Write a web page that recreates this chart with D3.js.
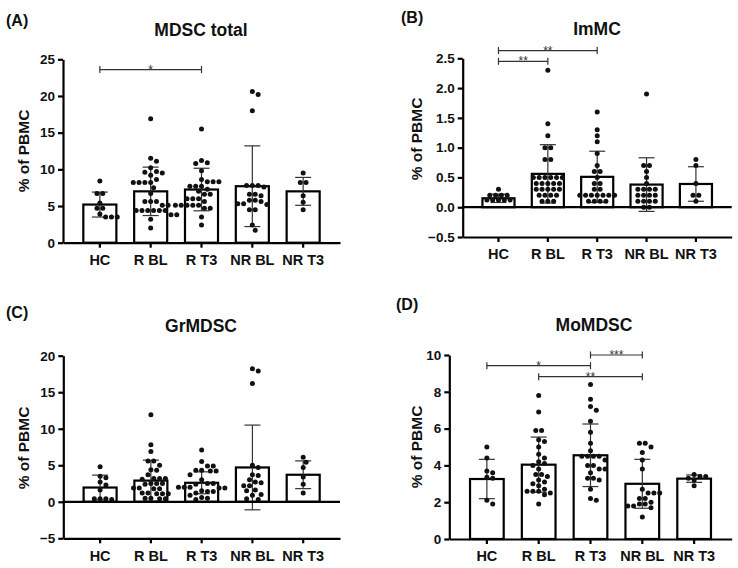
<!DOCTYPE html>
<html>
<head>
<meta charset="utf-8">
<script src="https://cdn.jsdelivr.net/npm/d3@7"></script>
<style>
  body { margin: 0; background: #fff; }
  text { font-family: Arial, "Liberation Sans", sans-serif; font-weight: bold; fill: #111; }
</style>
</head>
<body>
<div id="chart"></div>
<script>
// Groups on every panel
const groups = ["HC", "R BL", "R T3", "NR BL", "NR T3"];

// (A) MDSC total
const mdscTotalTicks = [0, 5, 10, 15, 20, 25];
const mdscTotalHC = [8.4, 6.7, 6.7, 5.4, 4.7, 4.7, 3.9, 3.5, 3.5, 3.5];
const mdscTotalRBL = [16.9, 11.5, 11.1, 10.2, 9.7, 9.6, 9.5, 9.2, 8.6, 8.2, 8.2, 8.2, 8.2, 7.5, 6.7, 5.6, 5.6, 5.6, 5.1, 5.1, 4.4, 4.4, 4.4, 4.4, 4.4, 4.4, 3.8, 3.8, 3.2, 2.0];
const mdscTotalRT3 = [15.5, 11.2, 10.9, 10.8, 9.8, 8.6, 8.3, 8.3, 8.3, 7.7, 7.7, 7.7, 7.3, 7.0, 6.6, 6.6, 6.0, 6.0, 6.0, 5.6, 5.1, 5.1, 5.1, 5.1, 5.1, 4.7, 4.7, 3.5, 2.4];
const mdscTotalNRBL = [20.6, 20.2, 18.0, 7.8, 7.8, 7.8, 7.6, 6.6, 6.6, 6.4, 5.8, 5.8, 5.6, 5.3, 5.3, 5.2, 4.5, 4.5, 2.4, 1.7];
const mdscTotalNRT3 = [9.5, 8.2, 8.2, 6.4, 5.5, 4.5];
const mdscTotalMean = [5.2, 7.0, 7.25, 7.7, 7.0];
const mdscTotalSD = [1.7, 3.3, 2.9, 5.5, 1.9];
const mdscTotalSig = [{ from: "HC", to: "R T3", at: 23.6, label: "*" }];

// (B) ImMC
const immcTicks = [-0.5, 0, 0.5, 1.0, 1.5, 2.0, 2.5];
const immcHC = [0.3, 0.2, 0.2, 0.2, 0.2, 0.12, 0.12, 0.12, 0.12, 0.12];
const immcRBL = [2.3, 1.4, 1.2, 1.0, 1.0, 0.8, 0.8, 0.5, 0.5, 0.5, 0.5, 0.5, 0.5, 0.4, 0.4, 0.4, 0.4, 0.4, 0.3, 0.3, 0.3, 0.3, 0.3, 0.2, 0.2, 0.2, 0.2, 0.1, 0.1, 0.1];
const immcRT3 = [1.6, 1.3, 1.2, 1.1, 0.9, 0.7, 0.6, 0.6, 0.5, 0.4, 0.4, 0.3, 0.3, 0.2, 0.2, 0.2, 0.2, 0.2, 0.2, 0.2, 0.1, 0.1, 0.1, 0.1];
const immcNRBL = [1.9, 0.7, 0.7, 0.6, 0.5, 0.4, 0.3, 0.3, 0.3, 0.3, 0.2, 0.2, 0.2, 0.2, 0.1, 0.1, 0.1, 0.1, 0.0, 0.0];
const immcNRT3 = [0.8, 0.7, 0.4, 0.2, 0.2, 0.1];
const immcMean = [0.15, 0.56, 0.51, 0.38, 0.39];
const immcSD = [0.07, 0.49, 0.43, 0.45, 0.29];
const immcSig = [
    { from: "HC", to: "R T3", at: 2.63, label: "**" },
    { from: "HC", to: "R BL", at: 2.45, label: "**" }
];

// (C) GrMDSC
const grTicks = [-5, 0, 5, 10, 15, 20];
const grHC = [4.8, 3.5, 3.3, 2.7, 2.3, 1.6, 0.4, 0.4, 0.4, 0.3];
const grRBL = [11.9, 7.8, 6.9, 5.6, 5.6, 5.0, 4.4, 4.3, 3.7, 3.2, 3.2, 3.2, 3.1, 2.5, 2.5, 2.5, 2.4, 1.9, 1.9, 1.8, 1.8, 1.2, 1.2, 1.1, 1.1, 1.1, 0.5, 0.5, 0.4, 0.4];
const grRT3 = [7.1, 5.5, 4.9, 4.9, 4.3, 4.3, 4.2, 4.2, 3.7, 3.0, 2.5, 2.5, 2.4, 2.0, 2.0, 2.0, 1.9, 1.9, 1.5, 1.4, 1.4, 1.2, 0.9, 0.6, 0.5, 0.3];
const grNRBL = [18.2, 17.9, 16.2, 5.0, 4.7, 3.7, 3.6, 3.0, 2.7, 2.6, 2.2, 2.2, 1.6, 1.5, 1.0, 0.9, 0.4, 0.3];
const grNRT3 = [6.1, 5.4, 4.7, 3.4, 2.4, 1.2];
const grMean = [1.95, 2.9, 2.6, 4.7, 3.7];
const grSD = [1.7, 2.8, 1.5, 5.8, 1.9];
const grSig = [];

// (D) MoMDSC
const moTicks = [0, 2, 4, 6, 8, 10];
const moHC = [5.0, 4.4, 3.7, 3.6, 3.35, 3.3, 2.1, 1.9];
const moRBL = [7.8, 6.9, 5.9, 5.9, 5.4, 5.3, 5.0, 4.6, 4.4, 4.2, 4.1, 4.0, 3.8, 3.5, 3.5, 3.4, 3.2, 3.1, 3.0, 2.9, 2.7, 2.6, 2.6, 2.6, 2.5, 2.4, 1.9];
const moRT3 = [8.4, 7.6, 7.2, 7.0, 6.4, 5.8, 5.2, 4.8, 4.5, 4.5, 4.5, 4.5, 4.3, 4.0, 4.0, 3.8, 3.8, 3.6, 3.3, 3.3, 3.2, 2.7, 2.2, 2.1];
const moNRBL = [5.2, 5.2, 5.0, 4.7, 4.3, 3.8, 2.7, 2.5, 2.5, 2.5, 2.2, 2.2, 2.0, 1.9, 1.9, 1.8, 1.8, 1.7, 1.2];
const moNRT3 = [3.5, 3.4, 3.4, 3.3, 3.2, 2.9];
const moMean = [3.26, 4.04, 4.55, 3.0, 3.28];
const moSD = [1.07, 1.5, 1.7, 1.33, 0.2];
const moSig = [
    { from: "HC", to: "R T3", at: 9.42, label: "*" },
    { from: "R T3", to: "NR BL", at: 10.0, label: "***" },
    { from: "R BL", to: "NR BL", at: 8.82, label: "**" }
];

// 1. Panel layout (pixel boxes of the plot areas)
const panels = [
    { letter: "(A)", title: "MDSC total", ticks: mdscTotalTicks, fmt: d3.format("d"),
      points: [mdscTotalHC, mdscTotalRBL, mdscTotalRT3, mdscTotalNRBL, mdscTotalNRT3],
      mean: mdscTotalMean, sd: mdscTotalSD, sig: mdscTotalSig,
      left: 63, right: 340, top: 59.3, bottom: 242.7,
      letterX: 6, letterY: 26, titleX: 201, titleY: 36, yTitleX: 24, yTitleY: 151 },
    { letter: "(B)", title: "ImMC", ticks: immcTicks, fmt: d3.format(".1f"),
      points: [immcHC, immcRBL, immcRT3, immcNRBL, immcNRT3],
      mean: immcMean, sd: immcSD, sig: immcSig,
      left: 462.7, right: 731.7, top: 58.3, bottom: 237,
      letterX: 401, letterY: 23, titleX: 597, titleY: 35, yTitleX: 417, yTitleY: 139 },
    { letter: "(C)", title: "GrMDSC", ticks: grTicks, fmt: d3.format("d"),
      points: [grHC, grRBL, grRT3, grNRBL, grNRT3],
      mean: grMean, sd: grSD, sig: grSig,
      left: 63.3, right: 340, top: 355.7, bottom: 538.3,
      letterX: 6, letterY: 318, titleX: 201, titleY: 332, yTitleX: 24, yTitleY: 448 },
    { letter: "(D)", title: "MoMDSC", ticks: moTicks, fmt: d3.format("d"),
      points: [moHC, moRBL, moRT3, moNRBL, moNRT3],
      mean: moMean, sd: moSD, sig: moSig,
      left: 449.3, right: 731.7, top: 355, bottom: 539,
      letterX: 396, letterY: 310, titleX: 594, titleY: 331, yTitleX: 417, yTitleY: 447 }
];

// 2. SVG Setup
const svg = d3.select("#chart")
    .append("svg")
    .attr("width", 738)
    .attr("height", 568)
    .style("display", "block");

svg.append("rect").attr("width", 738).attr("height", 568).attr("fill", "#fff");

const dotR = 2.5;
const minDist = 5.4;
const stepX = 5.8;

// GraphPad-like scatter: equal values in a centred row, others nudged sideways
function scatterLayout(vals, cx, y) {
    const placed = [];
    const rows = d3.groups(vals.slice().sort((a, b) => b - a), v => v);
    rows.forEach(([v, arr]) => {
        const py = y(v);
        const n = arr.length;
        for (let k = 0; k < 60; k++) {
            const shift = (k % 2 ? 1 : -1) * Math.ceil(k / 2) * stepX / 2;
            const xs = d3.range(n).map(i => cx + shift + (i - (n - 1) / 2) * stepX);
            const ok = xs.every(px => placed.every(p => Math.hypot(p.x - px, p.y - py) >= minDist));
            if (ok) {
                xs.forEach(px => placed.push({ x: px, y: py }));
                break;
            }
        }
    });
    return placed;
}

panels.forEach(p => {
    const g = svg.append("g");

    const x = d3.scaleBand()
        .domain(groups)
        .range([p.left, p.right])
        .paddingInner(0.35)
        .paddingOuter(0.4);

    const y = d3.scaleLinear()
        .domain([p.ticks[0], p.ticks[p.ticks.length - 1]])
        .range([p.bottom, p.top]);

    const cx = d => x(d) + x.bandwidth() / 2;

    // Bars
    g.selectAll("rect.bar")
        .data(groups)
        .join("rect")
        .attr("class", "bar")
        .attr("x", d => x(d))
        .attr("width", x.bandwidth())
        .attr("y", (d, i) => y(p.mean[i]))
        .attr("height", (d, i) => y(0) - y(p.mean[i]))
        .attr("fill", "#fff")
        .attr("stroke", "#000")
        .attr("stroke-width", 2.2);

    // Error bars (mean +/- SD)
    const eb = g.selectAll("g.err")
        .data(groups)
        .join("g")
        .attr("class", "err")
        .attr("stroke", "#333")
        .attr("stroke-width", 1.2);
    eb.append("line")
        .attr("x1", d => cx(d)).attr("x2", d => cx(d))
        .attr("y1", (d, i) => y(p.mean[i] + p.sd[i]))
        .attr("y2", (d, i) => y(p.mean[i] - p.sd[i]));
    eb.append("line")
        .attr("x1", d => cx(d) - 8).attr("x2", d => cx(d) + 8)
        .attr("y1", (d, i) => y(p.mean[i] + p.sd[i]))
        .attr("y2", (d, i) => y(p.mean[i] + p.sd[i]));
    eb.append("line")
        .attr("x1", d => cx(d) - 8).attr("x2", d => cx(d) + 8)
        .attr("y1", (d, i) => y(p.mean[i] - p.sd[i]))
        .attr("y2", (d, i) => y(p.mean[i] - p.sd[i]));

    // Dots
    groups.forEach((grp, i) => {
        g.append("g")
            .selectAll("circle")
            .data(scatterLayout(p.points[i], cx(grp), y))
            .join("circle")
            .attr("cx", d => d.x)
            .attr("cy", d => d.y)
            .attr("r", dotR)
            .attr("fill", "#111");
    });

    // Zero line when the axis goes below zero
    if (p.ticks[0] < 0) {
        g.append("line")
            .attr("x1", p.left).attr("x2", p.right)
            .attr("y1", y(0)).attr("y2", y(0))
            .attr("stroke", "#000")
            .attr("stroke-width", 2.2);
    }

    // Axes
    const yAxis = g.append("g")
        .attr("transform", `translate(${p.left},0)`)
        .call(d3.axisLeft(y).tickValues(p.ticks).tickFormat(p.fmt).tickSize(5).tickPadding(3).tickSizeOuter(0));
    yAxis.selectAll("path, line").attr("stroke", "#000").attr("stroke-width", 2.2);
    yAxis.selectAll("text").attr("font-size", "13.5px").attr("font-family", null).attr("fill", "#111");

    const xAxis = g.append("g")
        .attr("transform", `translate(0,${y(p.ticks[0])})`)
        .call(d3.axisBottom(x).tickSize(5).tickPadding(7).tickSizeOuter(0));
    xAxis.selectAll("path, line").attr("stroke", "#000").attr("stroke-width", 2.2);
    xAxis.selectAll("text").attr("font-size", "14.5px").attr("font-family", null).attr("fill", "#111");

    // Significance brackets
    p.sig.forEach(s => {
        const x1 = cx(s.from), x2 = cx(s.to), yy = y(s.at);
        const br = g.append("g").attr("stroke", "#333").attr("stroke-width", 1.2);
        br.append("line").attr("x1", x1).attr("x2", x2).attr("y1", yy).attr("y2", yy);
        br.append("line").attr("x1", x1).attr("x2", x1).attr("y1", yy - 3.5).attr("y2", yy + 3.5);
        br.append("line").attr("x1", x2).attr("x2", x2).attr("y1", yy - 3.5).attr("y2", yy + 3.5);
        g.append("text")
            .attr("x", (x1 + x2) / 2)
            .attr("y", yy + 4)
            .attr("text-anchor", "middle")
            .attr("font-size", "12px")
            .style("font-weight", "normal")
            .style("fill", "#333")
            .text(s.label);
    });

    // Titles
    g.append("text")
        .attr("x", p.letterX).attr("y", p.letterY)
        .attr("font-size", "16px")
        .text(p.letter);

    g.append("text")
        .attr("x", p.titleX).attr("y", p.titleY)
        .attr("text-anchor", "middle")
        .attr("font-size", "17.5px")
        .text(p.title);

    g.append("text")
        .attr("transform", `translate(${p.yTitleX},${p.yTitleY}) rotate(-90)`)
        .attr("text-anchor", "middle")
        .attr("dy", "0.35em")
        .attr("font-size", "15.5px")
        .text("% of PBMC");
});
</script>
</body>
</html>
